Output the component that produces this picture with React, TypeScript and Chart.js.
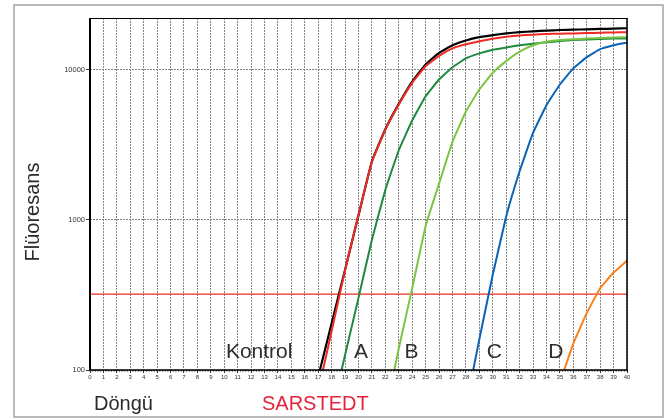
import { useEffect, useRef } from "react";
import { Chart, registerables } from "chart.js";

Chart.register(...registerables);

// ---- data ----
const cycles = [0, 1, 2, 3, 4, 5, 6, 7, 8, 9, 10, 11, 12, 13, 14, 15, 16, 17, 18, 19, 20, 21, 22, 23, 24, 25, 26, 27, 28, 29, 30, 31, 32, 33, 34, 35, 36, 37, 38, 39, 40];
const yTickValues = [100, 1000, 10000];
const thresholdValue = 320;

const kontrolStart = 16;
const kontrolValues = [40, 90, 205, 465, 1070, 2450, 4000, 5900, 8300, 10800, 12900, 14500, 15600, 16400, 16900, 17400, 17700, 17950, 18150, 18300, 18400, 18500, 18600, 18700, 18800];

const redStart = 17;
const redValues = [72, 182, 462, 1075, 2430, 3980, 5850, 8150, 10500, 12300, 13800, 14700, 15400, 16000, 16500, 16850, 17050, 17200, 17300, 17350, 17450, 17550, 17650, 17700];

const aStart = 18;
const aValues = [52, 126, 302, 735, 1580, 2900, 4570, 6630, 8580, 10350, 11840, 12790, 13530, 14000, 14500, 14850, 15150, 15450, 15700, 15850, 15950, 16050, 16100];

const bStart = 22;
const bValues = [52, 139, 350, 910, 1740, 3300, 5250, 7360, 9500, 11360, 13120, 14500, 15300, 15700, 15900, 16050, 16200, 16300, 16400];

const cStart = 28;
const cValues = [57, 160, 430, 1050, 2100, 3780, 5780, 7940, 10160, 12070, 13650, 14500, 15070];

const dStart = 35;
const dValues = [82, 150, 239, 350, 445, 535];

const curveLabels = ["Kontrol", "A", "B", "C", "D"];
const curveLabelCycles = [12.6, 20.18, 23.94, 30.12, 34.7];
const curveLabelBaseline = 120;

const yTitle = "Flüoresans";
const xTitle = "Döngü";
const brand = "SARSTEDT";

const FONT = "'Liberation Sans', Arial, Helvetica, sans-serif";

const toPoints = (start: number, values: number[]) =>
  values.map((v, i) => ({ x: start + i, y: v }));

const decorPlugin = {
  id: "decor",
  afterDraw(chart: any) {
    const ctx = chart.ctx as CanvasRenderingContext2D;
    const { left, right, top, bottom } = chart.chartArea;
    const xs = chart.scales.x;
    const ys = chart.scales.y;
    ctx.save();
    // outer grey box
    ctx.strokeStyle = "#a2a2a2";
    ctx.lineWidth = 1.5;
    ctx.strokeRect(14, 5, 649, 412);

    // minor ticks on x axis
    ctx.strokeStyle = "#333";
    ctx.lineWidth = 0.8;
    for (let i = 0; i <= 200; i++) {
      const px = xs.getPixelForValue(i / 5);
      ctx.beginPath();
      ctx.moveTo(px, bottom);
      ctx.lineTo(px, bottom + 1.8);
      ctx.stroke();
    }

    // frame
    ctx.strokeStyle = "#000";
    ctx.lineWidth = 1;
    ctx.beginPath();
    ctx.moveTo(left, top + 0.5);
    ctx.lineTo(right, top + 0.5);
    ctx.stroke();
    ctx.lineWidth = 1.5;
    ctx.beginPath();
    ctx.moveTo(right, top);
    ctx.lineTo(right, bottom);
    ctx.lineTo(left, bottom);
    ctx.stroke();
    ctx.lineWidth = 2;
    ctx.beginPath();
    ctx.moveTo(left, top);
    ctx.lineTo(left, bottom);
    ctx.stroke();

    // curve labels
    ctx.fillStyle = "#2e2e2e";
    ctx.font = `21px ${FONT}`;
    ctx.textAlign = "center";
    ctx.textBaseline = "alphabetic";
    const by = ys.getPixelForValue(curveLabelBaseline);
    curveLabels.forEach((t, i) => {
      ctx.fillText(t, xs.getPixelForValue(curveLabelCycles[i]), by);
    });

    // y title
    ctx.save();
    ctx.translate(33, (top + bottom) / 2 + 18);
    ctx.rotate(-Math.PI / 2);
    ctx.font = `20px ${FONT}`;
    ctx.fillStyle = "#2a2a2a";
    ctx.textAlign = "center";
    ctx.textBaseline = "middle";
    ctx.fillText(yTitle, 0, 0);
    ctx.restore();

    // bottom titles
    ctx.font = `20px ${FONT}`;
    ctx.textAlign = "left";
    ctx.textBaseline = "alphabetic";
    ctx.fillStyle = "#2a2a2a";
    ctx.fillText(xTitle, left + 4, 410);
    ctx.fillStyle = "#e5243b";
    ctx.fillText(brand, 262, 410);
    ctx.restore();
  },
};

export default function App() {
  const ref = useRef<HTMLCanvasElement | null>(null);
  useEffect(() => {
    if (!ref.current) return;
    const line = (data: any[], color: string, order: number, width = 2) => ({
      data,
      borderColor: color,
      backgroundColor: color,
      borderWidth: width,
      pointRadius: 0,
      tension: 0.1,
      order,
    });
    const chart = new Chart(ref.current, {
      type: "line",
      data: {
        datasets: [
          line([{ x: 0, y: thresholdValue }, { x: 40, y: thresholdValue }], "#ee2b24", 10, 1.2),
          line(toPoints(kontrolStart, kontrolValues), "#000000", 6, 2.2),
          line(toPoints(redStart, redValues), "#ee2b24", 5),
          line(toPoints(aStart, aValues), "#1f8a3e", 4),
          line(toPoints(bStart, bValues), "#7cc443", 3),
          line(toPoints(cStart, cValues), "#0b63b5", 2),
          line(toPoints(dStart, dValues), "#f6821f", 1),
        ] as any,
      },
      options: {
        animation: false,
        responsive: false,
        devicePixelRatio: 1,
        layout: { padding: { left: 0, right: 40, top: 18, bottom: 0 } },
        plugins: { legend: { display: false }, tooltip: { enabled: false }, title: { display: false } },
        scales: {
          x: {
            type: "linear",
            min: 0,
            max: 40,
            afterBuildTicks: (s: any) => {
              s.ticks = cycles.map((v) => ({ value: v }));
            },
            afterFit: (s: any) => {
              s.height = 50;
            },
            ticks: {
              autoSkip: false,
              maxRotation: 0,
              padding: 1,
              color: "#333",
              font: { size: 6, family: FONT },
              callback: (v: any) => String(v),
            },
            grid: {
              color: "#858585",
              lineWidth: 1,
              drawTicks: true,
              tickLength: 3,
              tickColor: "#333",
            },
            border: { display: false, dash: [2, 1] },
          },
          y: {
            type: "logarithmic",
            min: 100,
            max: 22000,
            afterBuildTicks: (s: any) => {
              s.ticks = yTickValues.map((v) => ({ value: v }));
            },
            afterFit: (s: any) => {
              s.width = 90;
            },
            ticks: {
              padding: 1,
              color: "#333",
              font: { size: 7.5, family: FONT },
              callback: (v: any) => String(v),
            },
            grid: {
              color: "#858585",
              lineWidth: 1,
              drawTicks: true,
              tickLength: 4,
              tickColor: "#333",
            },
            border: { display: false, dash: [2, 1] },
          },
        },
      } as any,
      plugins: [decorPlugin],
    });
    return () => chart.destroy();
  }, []);
  return (
    <div style={{ position: "fixed", left: 0, top: 0, width: 667, height: 420, background: "#fff" }}>
      <canvas ref={ref} width={667} height={420} style={{ width: 667, height: 420, display: "block" }} />
    </div>
  );
}
